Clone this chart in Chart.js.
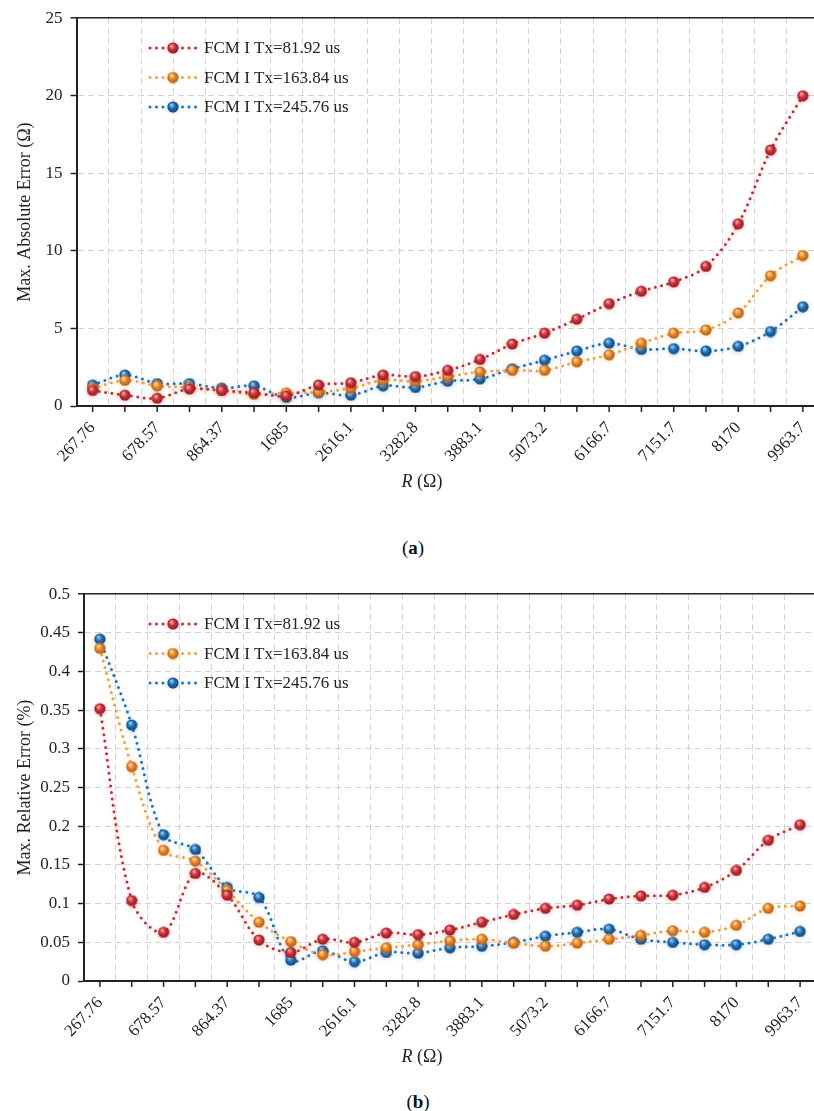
<!DOCTYPE html>
<html>
<head>
<meta charset="utf-8">
<script src="https://cdn.jsdelivr.net/npm/chart.js@4.4.0/dist/chart.umd.min.js"></script>
<style>
    html, body { margin: 0; padding: 0; background: #fff; overflow: hidden; }
    #page { position: relative; width: 814px; height: 1111px; overflow: hidden; }
    .box { position: absolute; left: 0; width: 830px; }
    #boxA { top: 0; height: 500px; }
    #boxB { top: 576px; height: 499px; }
    .cap { position: absolute; font-family: 'Liberation Serif', serif; font-size: 19px; color: #111;
           transform: translate(-50%, -50%); white-space: nowrap; }
</style>
</head>
<body>
<div id="page">
    <div class="box" id="boxA"><canvas id="chartA"></canvas></div>
    <div class="cap" style="left:413px; top:548px;">(<b>a</b>)</div>
    <div class="box" id="boxB"><canvas id="chartB"></canvas></div>
    <div class="cap" style="left:418px; top:1102px;">(<b>b</b>)</div>
</div>
<script>
// R values (only every other one is labelled on the axis)
const categories = ['267.76', '', '678.57', '', '864.37', '', '1685', '', '2616.1', '', '3282.8', '',
    '3883.1', '', '5073.2', '', '6166.7', '', '7151.7', '', '8170', '', '9963.7'];

const seriesNames = ['FCM I Tx=81.92 us', 'FCM I Tx=163.84 us', 'FCM I Tx=245.76 us'];

// (a) Max. absolute error (Ω)
const absErr81 = [1.0, 0.7, 0.5, 1.1, 1.0, 0.85, 0.65, 1.35, 1.5, 2.0, 1.9, 2.3, 3.0, 4.0, 4.7, 5.6, 6.6, 7.4, 8.0, 9.0, 11.75, 16.5, 20.0];
const absErr163 = [1.15, 1.65, 1.3, 1.2, 1.0, 0.75, 0.85, 0.9, 1.15, 1.67, 1.6, 1.9, 2.2, 2.3, 2.3, 2.85, 3.3, 4.05, 4.7, 4.9, 6.0, 8.4, 9.7];
const absErr245 = [1.35, 2.0, 1.45, 1.45, 1.15, 1.3, 0.55, 0.85, 0.7, 1.3, 1.2, 1.6, 1.75, 2.4, 2.95, 3.55, 4.05, 3.65, 3.7, 3.55, 3.85, 4.8, 6.4];

// (b) Max. relative error (%)
const relErr81 = [0.352, 0.104, 0.063, 0.139, 0.111, 0.053, 0.037, 0.054, 0.050, 0.062, 0.060, 0.066, 0.076, 0.086, 0.094, 0.098, 0.106, 0.110, 0.111, 0.121, 0.143, 0.182, 0.202];
const relErr163 = [0.430, 0.277, 0.169, 0.155, 0.117, 0.076, 0.051, 0.034, 0.038, 0.043, 0.047, 0.052, 0.054, 0.049, 0.045, 0.049, 0.054, 0.059, 0.065, 0.063, 0.072, 0.094, 0.097];
const relErr245 = [0.442, 0.331, 0.189, 0.170, 0.121, 0.108, 0.027, 0.039, 0.025, 0.037, 0.036, 0.043, 0.045, 0.050, 0.058, 0.063, 0.067, 0.054, 0.050, 0.047, 0.047, 0.054, 0.064];

const FONT = "'Liberation Serif', 'Times New Roman', serif";
const lineColors = ['#c0303a', '#f0a04a', '#2573b5'];
const glowColors = ['rgba(220,80,80,0.35)', 'rgba(250,170,90,0.35)', 'rgba(70,140,210,0.35)'];
const sphereColors = [
    ['#f6a4a4', '#c8313a', '#8a1820'],
    ['#ffd9a0', '#e8862a', '#a65810'],
    ['#9ccaf0', '#1f70b3', '#0d3f72']
];

// little shaded ball used as point marker
function sphere(light, base, dark) {
    const c = document.createElement('canvas');
    c.width = 12; c.height = 12;
    const g = c.getContext('2d');
    const grad = g.createRadialGradient(4.3, 3.8, 0.5, 6, 6, 6);
    grad.addColorStop(0, light);
    grad.addColorStop(0.45, base);
    grad.addColorStop(1, dark);
    g.fillStyle = grad;
    g.beginPath();
    g.arc(6, 6, 5.6, 0, Math.PI * 2);
    g.fill();
    return c;
}
const spheres = sphereColors.map(s => sphere(s[0], s[1], s[2]));

function makeDatasets(values) {
    return values.map((v, i) => ({
        label: seriesNames[i],
        data: v,
        borderColor: lineColors[i],
        backgroundColor: lineColors[i],
        borderWidth: 3,
        borderDash: [0, 6.5],
        borderCapStyle: 'round',
        tension: 0.35,
        fill: false,
        pointStyle: spheres[i],
        pointRadius: 5
    }));
}

// soft halo under lines and markers
const glowPlugin = {
    id: 'glow',
    beforeDatasetDraw(chart, args) {
        const ctx = chart.ctx;
        ctx.save();
        ctx.shadowColor = glowColors[args.index];
        ctx.shadowBlur = 5;
        ctx.shadowOffsetY = 1;
    },
    afterDatasetDraw(chart) {
        chart.ctx.restore();
    }
};

// tick marks under every category, grid lines sit between them
const xTickPlugin = {
    id: 'xTickMarks',
    afterDraw(chart) {
        const ctx = chart.ctx, x = chart.scales.x, bottom = chart.chartArea.bottom;
        ctx.save();
        ctx.strokeStyle = '#222';
        ctx.lineWidth = 1.5;
        for (let i = 0; i < categories.length; i++) {
            const px = x.getPixelForValue(i);
            ctx.beginPath();
            ctx.moveTo(px, bottom);
            ctx.lineTo(px, bottom + 6);
            ctx.stroke();
        }
        ctx.restore();
    }
};

function legendPlugin(x0, y0, rowGap) {
    return {
        id: 'insideLegend',
        afterDraw(chart) {
            const ctx = chart.ctx;
            ctx.save();
            chart.data.datasets.forEach((ds, i) => {
                const y = y0 + i * rowGap;
                ctx.save();
                ctx.shadowColor = glowColors[i];
                ctx.shadowBlur = 4;
                ctx.strokeStyle = ds.borderColor;
                ctx.lineWidth = 3;
                ctx.lineCap = 'round';
                ctx.setLineDash([0, 6.5]);
                ctx.beginPath();
                ctx.moveTo(x0, y);
                ctx.lineTo(x0 + 47, y);
                ctx.stroke();
                ctx.drawImage(spheres[i], x0 + 17, y - 6);
                ctx.restore();
                ctx.fillStyle = '#222';
                ctx.font = '17px ' + FONT;
                ctx.textBaseline = 'middle';
                ctx.fillText(ds.label, x0 + 54, y + 1);
            });
            ctx.restore();
        }
    };
}

// x title with italic R
function xTitlePlugin(cx, dy) {
    return {
        id: 'xTitle',
        afterDraw(chart) {
            const ctx = chart.ctx;
            const y = chart.chartArea.bottom + dy;
            ctx.save();
            ctx.fillStyle = '#222';
            ctx.textBaseline = 'middle';
            ctx.font = 'italic 18px ' + FONT;
            const wR = ctx.measureText('R').width;
            ctx.font = '18px ' + FONT;
            const wRest = ctx.measureText(' (Ω)').width;
            let x = cx - (wR + wRest) / 2;
            ctx.font = 'italic 18px ' + FONT;
            ctx.fillText('R', x, y);
            ctx.font = '18px ' + FONT;
            ctx.fillText(' (Ω)', x + wR, y);
            ctx.restore();
        }
    };
}

function makeChart(id, values, yCfg) {
    const max = yCfg.max;
    const isTop = ctx => ctx.tick && Math.abs(ctx.tick.value - max) < 1e-9;
    return new Chart(document.getElementById(id), {
        type: 'line',
        data: { labels: categories, datasets: makeDatasets(values) },
        options: {
            responsive: true,
            maintainAspectRatio: false,
            animation: false,
            layout: { padding: { top: 17, left: 10, right: yCfg.padRight, bottom: 0 } },
            plugins: { legend: { display: false }, tooltip: { enabled: false } },
            scales: {
                x: {
                    offset: true,
                    afterFit: s => { s.height = 94; },
                    grid: { offset: true, color: '#d2d2d2', lineWidth: 1, drawTicks: false },
                    border: { display: true, color: '#222', width: 2, dash: [6, 4] },
                    ticks: {
                        autoSkip: false,
                        minRotation: 47,
                        maxRotation: 47,
                        padding: 12,
                        color: '#222',
                        font: { family: FONT, size: 17 }
                    }
                },
                y: {
                    min: 0,
                    max: max,
                    afterFit: s => { s.width = yCfg.width; },
                    grid: {
                        color: ctx => isTop(ctx) ? '#222' : '#d2d2d2',
                        lineWidth: ctx => isTop(ctx) ? 1.6 : 1,
                        tickColor: '#222',
                        tickLength: 6,
                        tickWidth: 1.5,
                        tickBorderDash: []
                    },
                    border: { display: true, color: '#222', width: 2, dash: ctx => isTop(ctx) ? [] : [6, 4] },
                    ticks: {
                        stepSize: yCfg.step,
                        padding: 8,
                        color: '#222',
                        font: { family: FONT, size: 17 },
                        callback: v => String(+v.toFixed(2))
                    },
                    title: {
                        display: true,
                        text: yCfg.title,
                        color: '#222',
                        font: { family: FONT, size: 18 },
                        padding: { top: 4, bottom: 0 }
                    }
                }
            }
        },
        plugins: [glowPlugin, xTickPlugin, legendPlugin(150, 48, 29.5), xTitlePlugin(422, 76)]
    });
}

makeChart('chartA', [absErr81, absErr163, absErr245],
    { max: 25, step: 5, width: 66.5, padRight: 11, title: 'Max. Absolute Error (Ω)' });
makeChart('chartB', [relErr81, relErr163, relErr245],
    { max: 0.5, step: 0.05, width: 74, padRight: 14, title: 'Max. Relative Error (%)' });
</script>
</body>
</html>
